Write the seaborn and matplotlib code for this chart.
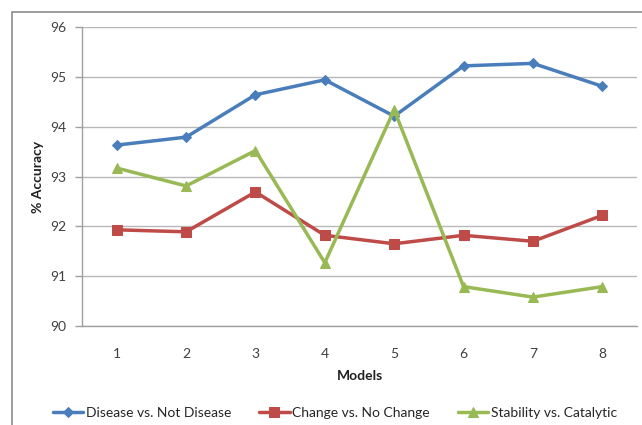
import matplotlib
matplotlib.use("Agg")
import matplotlib.pyplot as plt
import seaborn as sns
import pandas as pd
from matplotlib.patches import Rectangle

models = [1, 2, 3, 4, 5, 6, 7, 8]
disease = [93.63, 93.79, 94.64, 94.94, 94.21, 95.22, 95.27, 94.81]
change = [91.93, 91.89, 92.69, 91.82, 91.65, 91.82, 91.70, 92.22]
stability = [93.17, 92.81, 93.52, 91.27, 94.34, 90.79, 90.58, 90.79]
series_names = ["Disease vs. Not Disease", "Change vs. No Change", "Stability vs. Catalytic"]
yticks = [90, 91, 92, 93, 94, 95, 96]

rows = []
for name, vals in zip(series_names, [disease, change, stability]):
    for m, v in zip(models, vals):
        rows.append({"Models": m, "Accuracy": v, "Series": name})
df = pd.DataFrame(rows)

sns.set_style("white")
plt.rcParams["font.family"] = ["Lato", "DejaVu Sans"]

fig = plt.figure(figsize=(6.42, 4.25), dpi=100)
ax = fig.add_axes([82 / 642, 1 - 326 / 425, (637 - 82) / 642, (326 - 27) / 425])

palette = {series_names[0]: "#4A7EBB", series_names[1]: "#BE4B48", series_names[2]: "#98B954"}
markers = {series_names[0]: "D", series_names[1]: "s", series_names[2]: "^"}
sizes_m = {series_names[0]: 7, series_names[1]: 9.5, series_names[2]: 10}

for name in series_names:
    sub = df[df["Series"] == name]
    sns.lineplot(data=sub, x="Models", y="Accuracy", ax=ax, color=palette[name],
                 marker=markers[name], markersize=sizes_m[name], linewidth=3,
                 markeredgecolor=palette[name], label=name, legend=False)

ax.set_xlim(0.5, 8.5)
ax.set_ylim(90, 96)
ax.set_yticks(yticks)
ax.set_yticklabels([str(t) for t in yticks], fontsize=10, color="#404040")
ax.set_xticks(models)
ax.set_xticklabels([str(m) for m in models], fontsize=10, color="#404040")
ax.tick_params(axis="x", length=0, pad=16)
ax.tick_params(axis="y", length=5, width=1, color="#A0A0A0", direction="out", left=True, pad=6)
ax.grid(axis="y", color="#B8B8B8", linewidth=1)
ax.set_axisbelow(True)
for s in ["top", "right"]:
    ax.spines[s].set_visible(False)
for s in ["left", "bottom"]:
    ax.spines[s].set_color("#A0A0A0")
    ax.spines[s].set_linewidth(1)

ax.set_xlabel("Models", fontsize=10, fontweight="bold", labelpad=7, color="#202020")
ax.set_ylabel("% Accuracy", fontsize=10, fontweight="bold", labelpad=5, color="#202020")

handles, labels = ax.get_legend_handles_labels()
for h in handles:
    h.set_markersize(h.get_markersize() * 0.75)
    h.set_linewidth(2.5)
fig.legend(handles, labels, loc="center", bbox_to_anchor=(335 / 642, 1 - 413 / 425), ncol=3,
           frameon=False, fontsize=10, handlelength=2.2, handletextpad=0.2, columnspacing=2.0)

frame = Rectangle((12 / 642, -0.1), 1.2, 1 - 12 / 425 + 0.1, transform=fig.transFigure,
                  fill=False, edgecolor="#8C8C8C", linewidth=1.2, clip_on=False)
fig.patches.append(frame)

fig.savefig("out.png", dpi=100)
